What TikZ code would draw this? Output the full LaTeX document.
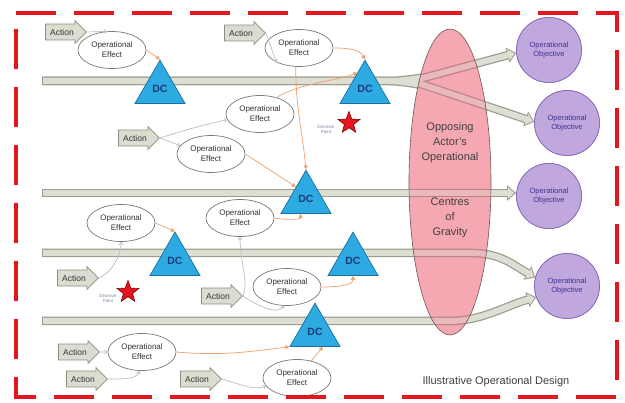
\documentclass[tikz,border=0pt]{standalone}
\usepackage{fontspec}
\setmainfont{Liberation Sans}
\usetikzlibrary{shapes.geometric,shapes.arrows,arrows.meta}

\definecolor{frameRed}{HTML}{E3161F}
\definecolor{barEdge}{HTML}{9C9D90}
\definecolor{barFill}{HTML}{DEDFD3}
\definecolor{dcFill}{HTML}{2CAAE1}
\definecolor{dcEdge}{HTML}{1B6F9C}
\definecolor{dcText}{HTML}{1C3C7A}
\definecolor{objFill}{HTML}{C0A8DF}
\definecolor{objEdge}{HTML}{8567B3}
\definecolor{objText}{HTML}{3F3190}
\definecolor{cogFill}{HTML}{F5A8B2}
\definecolor{cogEdge}{HTML}{6E5458}
\definecolor{cogBarEdge}{HTML}{B8848A}
\definecolor{cogBarFill}{HTML}{E9B9BE}
\definecolor{oeEdge}{HTML}{7A7A7A}
\definecolor{linkOrange}{HTML}{F0A06A}
\definecolor{linkGrey}{HTML}{BEBEBE}
\definecolor{actFill}{HTML}{DCDDD0}
\definecolor{actEdge}{HTML}{8C8D82}
\definecolor{dpText}{HTML}{7582A6}

\tikzset{
  effect/.style={ellipse, draw=oeEdge, line width=0.7pt, fill=white,
    minimum width=68pt, minimum height=37pt, inner sep=0pt, align=center,
    font=\fontsize{8}{10}\selectfont, text=black!80},
  action/.style={single arrow, draw=actEdge, fill=actFill, line width=0.7pt,
    minimum height=41pt, single arrow head extend=3.5pt, inner ysep=4.5pt,
    inner xsep=2pt, font=\fontsize{8.5}{9}\selectfont, text=black!80},
  dcnode/.style={regular polygon, regular polygon sides=3, minimum size=57.7pt,
    inner sep=0pt, draw=dcEdge, fill=dcFill, line width=0.7pt,
    font=\fontsize{10.5}{11}\selectfont\bfseries, text=dcText},
  objective/.style={circle, minimum size=65pt, inner sep=0pt, draw=objEdge,
    fill=objFill, line width=0.7pt, align=center,
    font=\fontsize{7.5}{9}\selectfont, text=objText},
  dpoint/.style={star, star points=5, star point ratio=2.4, minimum size=23pt,
    inner sep=0pt, fill=frameRed, draw=red!50!black, line width=0.6pt},
  dplabel/.style={align=center, font=\fontsize{4.5}{5}\selectfont,
    text=dpText, inner sep=0pt},
  barOuter/.style={draw=barEdge, line width=8.5pt},
  barInner/.style={draw=barFill, line width=6pt, shorten <=1.2pt},
  tipOuter/.style={-{Triangle[length=9pt,width=15pt]}},
  tipInner/.style={shorten >=1.6pt, -{Triangle[length=6.5pt,width=11pt]}},
  cogBarOuter/.style={draw=cogBarEdge, line width=8.5pt},
  cogBarInner/.style={draw=cogBarFill, line width=6pt},
  toDC/.style={draw=linkOrange, line width=0.7pt, -{Triangle[length=4pt,width=4pt]}},
  toOE/.style={draw=linkGrey, line width=0.7pt, -{Straight Barb[length=2.5pt,width=4pt]}},
}

\begin{document}
\begin{tikzpicture}[x=1pt, y=-1pt]
\useasboundingbox (0,0) rectangle (625,403);
\fill[white] (0,0) rectangle (625,403);

\coordinate (b1s) at (42,81);
\coordinate (b1k) at (412,81);
\coordinate (b2s) at (42,193);
\coordinate (b3s) at (42,253);
\coordinate (b3k) at (470,253);
\coordinate (b4s) at (42,321);
\coordinate (b4k) at (450,321);

% objectives (placed first so the bars can end on them)
\node[objective] (obj1) at (549,50)  {Operational\\Objective};
\node[objective] (obj2) at (567,123) {Operational\\Objective};
\node[objective] (obj3) at (549,196) {Operational\\Objective};
\node[objective] (obj4) at (567,286) {Operational\\Objective};

% lines of operation
\draw[barOuter, tipOuter, rounded corners=25pt] (b1s) -- (b1k) -- (obj1.185);
\draw[barOuter, tipOuter, rounded corners=25pt] (b1s) -- (b1k) -- (obj2.178);
\draw[barOuter, tipOuter] (b2s) -- (b2s -| obj3.west);
\draw[barOuter, tipOuter] (b3s) -- (b3k) .. controls (500,253) and (510,263) .. (obj4.165);
\draw[barOuter, tipOuter] (b4s) -- (b4k) .. controls (482,321) and (505,306) .. (obj4.200);
\draw[barInner, tipInner, rounded corners=25pt] (b1s) -- (b1k) -- (obj1.185);
\draw[barInner, tipInner, rounded corners=25pt] (b1s) -- (b1k) -- (obj2.178);
\draw[barInner, tipInner] (b2s) -- (b2s -| obj3.west);
\draw[barInner, tipInner] (b3s) -- (b3k) .. controls (500,253) and (510,263) .. (obj4.165);
\draw[barInner, tipInner] (b4s) -- (b4k) .. controls (482,321) and (505,306) .. (obj4.200);

% redraw objectives above the arrow tips
\node[objective] at (obj1) {Operational\\Objective};
\node[objective] at (obj2) {Operational\\Objective};
\node[objective] at (obj3) {Operational\\Objective};
\node[objective] at (obj4) {Operational\\Objective};

% opposing actor's centres of gravity, with the bars showing through
\fill[cogFill] (450,182) ellipse [x radius=41pt, y radius=153pt];
\begin{scope}
\clip (450,182) ellipse [x radius=41pt, y radius=153pt];
\draw[cogBarOuter] (400,81) -- (b1k) -- (obj1.185);
\draw[cogBarOuter] (400,81) -- (b1k) -- (obj2.178);
\draw[cogBarOuter] (400,193) -- (b2s -| obj3.west);
\draw[cogBarOuter] (400,253) -- (b3k) .. controls (500,253) and (510,263) .. (obj4.165);
\draw[cogBarOuter] (400,321) -- (b4k) .. controls (482,321) and (505,306) .. (obj4.200);
\draw[cogBarInner] (400,81) -- (b1k) -- (obj1.185);
\draw[cogBarInner] (400,81) -- (b1k) -- (obj2.178);
\draw[cogBarInner] (400,193) -- (b2s -| obj3.west);
\draw[cogBarInner] (400,253) -- (b3k) .. controls (500,253) and (510,263) .. (obj4.165);
\draw[cogBarInner] (400,321) -- (b4k) .. controls (482,321) and (505,306) .. (obj4.200);
\end{scope}
\draw[cogEdge, line width=0.6pt] (450,182) ellipse [x radius=41pt, y radius=153pt];
\node[align=center, font=\fontsize{11}{15}\selectfont, text=black!75] (cogA) at (450,143)
  {Opposing\\Actor's\\Operational};
\node[align=center, font=\fontsize{11}{15}\selectfont, text=black!75] (cogB) at (450,218)
  {Centres\\of\\Gravity};

% decisive conditions
\node[dcnode] (dc1) at (160,89)  {DC};
\node[dcnode] (dc2) at (365,89)  {DC};
\node[dcnode] (dc3) at (306,199) {DC};
\node[dcnode] (dc4) at (175,261) {DC};
\node[dcnode] (dc5) at (353,261) {DC};
\node[dcnode] (dc6) at (315,332) {DC};

% operational effects
\node[effect] (oe1) at (112,50)  {Operational\\Effect};
\node[effect] (oe2) at (299,48)  {Operational\\Effect};
\node[effect] (oe3) at (260,114) {Operational\\Effect};
\node[effect] (oe4) at (211,154) {Operational\\Effect};
\node[effect] (oe5) at (121,223) {Operational\\Effect};
\node[effect] (oe6) at (240,218) {Operational\\Effect};
\node[effect] (oe7) at (287,287) {Operational\\Effect};
\node[effect] (oe8) at (142,352) {Operational\\Effect};
\node[effect] (oe9) at (297,378) {Operational\\Effect};

% actions
\node[action] (a1) at (62,32)   {Action};
\node[action] (a2) at (241,33)  {Action};
\node[action] (a3) at (135,138) {Action};
\node[action] (a4) at (74,278)  {Action};
\node[action] (a5) at (218,296) {Action};
\node[action] (a6) at (75,352)  {Action};
\node[action] (a7) at (83,379)  {Action};
\node[action] (a8) at (197,379) {Action};

% decisive points
\node[dpoint] (dp1) at (349,123) {};
\node[dplabel] (dp1l) at (326,129) {Decisive\\Point};
\node[dpoint] (dp2) at (128,292) {};
\node[dplabel] (dp2l) at (108,298) {Decisive\\Point};

% actions create effects
\draw[toOE] (a1.east) -- (oe1.105);
\draw[toOE] (a2.east) -- (oe2.212);
\draw[toOE] (a3.east) .. controls +(25,-8) and +(-20,4) .. (oe3.190);
\draw[toOE] (a3.east) -- (oe4.165);
\draw[toOE] (a4.east) .. controls +(12,-5) and +(0,15) .. (oe5.south);
\draw[toOE] (a5.east) .. controls +(6,-12) and +(0,25) .. (oe6.south);
\draw[toOE] (a5.east) .. controls +(15,10) and +(-5,10) .. (oe7.-100);
\draw[toOE] (a6.east) -- (oe8.west);
\draw[toOE] (a7.east) .. controls +(18,0) and +(0,8) .. (oe8.-100);
\draw[toOE] (a8.east) .. controls +(20,6) and +(-12,4) .. (oe9.195);

% effects lead to decisive conditions
\draw[toDC] (oe1.east) -- (dc1.corner 1);
\draw[toDC] (oe2.east) .. controls +(15,0) and +(-5,-10) .. (dc2.corner 1);
\draw[toDC] (oe3.45) .. controls +(22,-14) and +(-20,8) .. (dc2.115);
\draw[toDC] (oe2.-100) .. controls +(0,40) and +(-4,-40) .. (dc3.corner 1);
\draw[toDC] (oe4.east) -- (dc3.130);
\draw[toDC] (oe6.east) .. controls +(12,2) and +(0,6) .. (dc3.250);
\draw[toDC] (oe5.east) -- (dc4.corner 1);
\draw[toDC] (oe7.east) .. controls +(15,0) and +(0,10) .. (dc5.south);
\draw[toDC] (oe8.east) .. controls +(45,4) and +(-40,5) .. (dc6.corner 2);
\draw[toDC] (oe9.50) -- (dc6.-62);

% caption
\node[font=\fontsize{11}{12}\selectfont, text=black!75] (cap) at (496,382)
  {Illustrative Operational Design};

% frame
\draw[frameRed, line width=4.5pt, dash pattern=on 40pt off 18pt]
  (16,13) -- (617,13) -- (617,397) -- (16,397) -- cycle;
\end{tikzpicture}
\end{document}
